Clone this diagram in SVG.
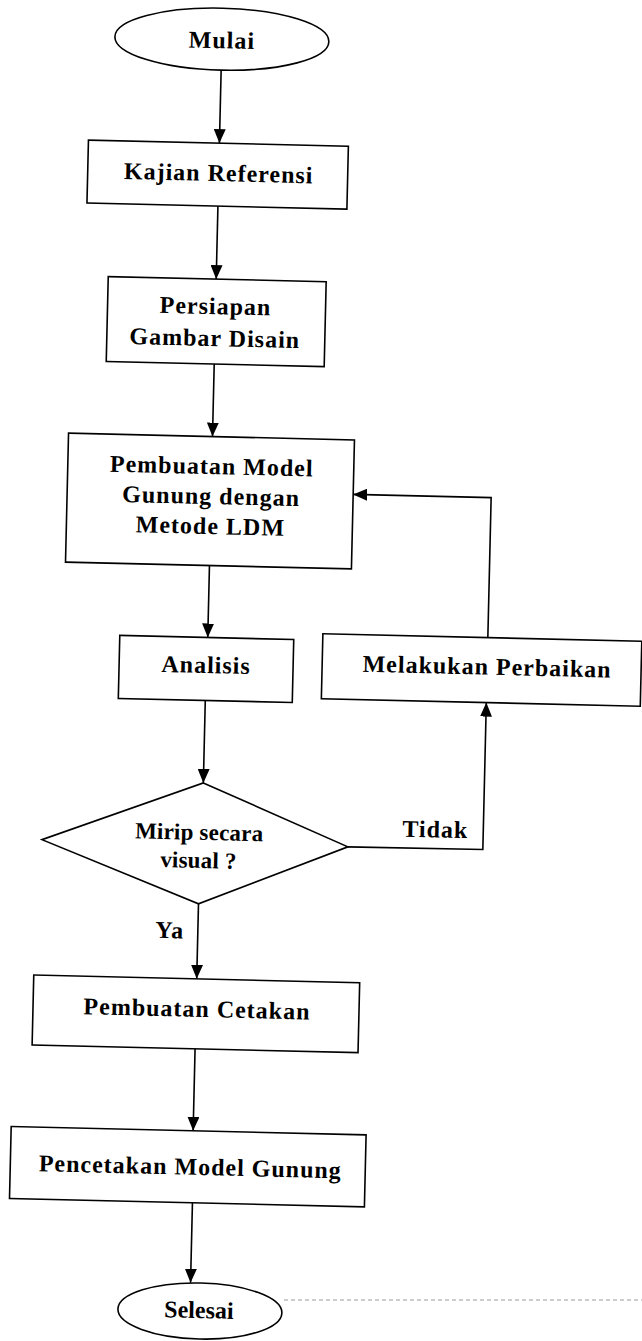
<svg xmlns="http://www.w3.org/2000/svg" width="642" height="1341" viewBox="0 0 642 1341">
<defs>
<style>
.box{fill:#fff;stroke:#000;stroke-width:1.6}
.lbl{font-family:"Liberation Serif","Times New Roman",serif;font-weight:bold;font-size:24px;letter-spacing:1px;text-anchor:middle;fill:#000}
.sm{font-size:23px;letter-spacing:0.2px}
.tight{letter-spacing:0px}
.conn{fill:none;stroke:#000;stroke-width:1.6;marker-end:url(#arr)}
</style>
<marker id="arr" markerWidth="14" markerHeight="12" refX="14" refY="6" orient="auto" markerUnits="userSpaceOnUse">
<path d="M0,0 L14,6 L0,12 Z" fill="#000"/>
</marker>
</defs>
<rect x="0" y="0" width="642" height="1341" fill="#fff"/>
<g transform="rotate(1.35 207 670)">
<g id="connectors">
<line class="conn" x1="207" y1="70" x2="207" y2="143"/>
<line class="conn" x1="207" y1="206" x2="207" y2="279"/>
<line class="conn" x1="207" y1="364" x2="207" y2="436.5"/>
<line class="conn" x1="207" y1="565.5" x2="207" y2="637.5"/>
<polyline class="conn" points="487,631 487,491 349,491"/>
<line class="conn" x1="206" y1="700.5" x2="206" y2="783"/>
<polyline class="conn" points="352,843.5 487,843 487,696"/>
<line class="conn" x1="204" y1="904" x2="204" y2="979"/>
<line class="conn" x1="204" y1="1049" x2="204" y2="1131"/>
<line class="conn" x1="205" y1="1203" x2="205" y2="1283"/>
<text class="lbl" x="439" y="832">Tidak</text>
<text class="lbl" x="176" y="939">Ya</text>
</g>
<g id="mulai">
<ellipse class="box" cx="207" cy="39" rx="107" ry="31"/>
<text class="lbl" x="207" y="48">Mulai</text>
</g>
<g id="kajian">
<rect class="box" x="76" y="143" width="260" height="63"/>
<text class="lbl" x="207" y="181">Kajian Referensi</text>
</g>
<g id="persiapan">
<rect class="box" x="99" y="279" width="218" height="85"/>
<text class="lbl" x="207" y="314">Persiapan</text>
<text class="lbl" x="207" y="346">Gambar Disain</text>
</g>
<g id="pembuatan-model">
<rect class="box" x="63" y="436.5" width="286" height="129"/>
<text class="lbl" x="207" y="474">Pembuatan Model</text>
<text class="lbl" x="207" y="504">Gunung dengan</text>
<text class="lbl" x="207" y="534">Metode LDM</text>
</g>
<g id="analisis">
<rect class="box" x="119" y="637.5" width="174" height="63"/>
<text class="lbl" x="206" y="673">Analisis</text>
</g>
<g id="perbaikan">
<rect class="box" x="322" y="631" width="319" height="65"/>
<text class="lbl" x="487" y="668">Melakukan Perbaikan</text>
</g>
<g id="keputusan">
<polygon class="box" points="206,783 352,843.5 204,904 46,843.5"/>
<text class="lbl sm" x="203" y="840">Mirip secara</text>
<text class="lbl sm" x="203" y="868">visual ?</text>
</g>
<g id="cetakan">
<rect class="box" x="41" y="979" width="326" height="70"/>
<text class="lbl" x="205" y="1017">Pembuatan Cetakan</text>
</g>
<g id="pencetakan">
<rect class="box" x="22" y="1131" width="355" height="72"/>
<text class="lbl" x="202" y="1175">Pencetakan Model Gunung</text>
</g>
<g id="selesai">
<ellipse class="box" cx="215" cy="1311" rx="82" ry="28"/>
<text class="lbl tight" x="214" y="1318">Selesai</text>
</g>
</g>
<g id="scan-line">
<line x1="284" y1="1300" x2="642" y2="1300" stroke="#9a9a9a" stroke-width="1" stroke-dasharray="4 3"/>
</g>
</svg>
